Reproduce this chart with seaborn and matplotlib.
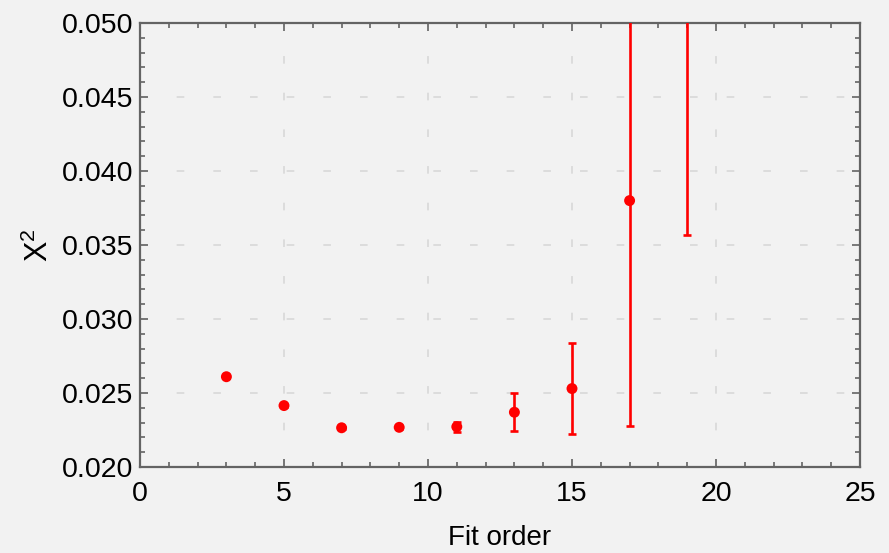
import numpy as np
import pandas as pd
import matplotlib
matplotlib.use("Agg")
import matplotlib.pyplot as plt
import seaborn as sns
from matplotlib.ticker import MultipleLocator

# data
fit_order = [3, 5, 7, 9, 11, 13, 15, 17, 19]
chi2 = [0.0261, 0.02415, 0.02265, 0.02268, 0.02272, 0.0237, 0.0253, 0.0380, 0.0598]
chi2_err = [0.00008, 0.00008, 0.00005, 0.00012, 0.00034, 0.00127, 0.0031, 0.0152, 0.0241]

x_ticks = [0, 5, 10, 15, 20, 25]
y_ticks = [0.020, 0.025, 0.030, 0.035, 0.040, 0.045, 0.050]
y_tick_labels = ["0.020", "0.025", "0.030", "0.035", "0.040", "0.045", "0.050"]

df = pd.DataFrame({"order": fit_order, "chi2": chi2, "err": chi2_err})

sns.set_style("ticks")
plt.rcParams["font.family"] = ["Liberation Sans", "DejaVu Sans"]
plt.rcParams["mathtext.fontset"] = "custom"
plt.rcParams["mathtext.rm"] = "Liberation Sans"
plt.rcParams["mathtext.it"] = "Liberation Sans"

bg = "#f2f2f2"
fig = plt.figure(figsize=(8.89, 5.53), dpi=100, facecolor=bg)
ax = fig.add_axes([140/889, 1-467/553, 720/889, 444/553])
ax.set_facecolor(bg)

ax.errorbar(df["order"], df["chi2"], yerr=df["err"], fmt="none",
            ecolor="#ff0000", elinewidth=1.9, capsize=3.0, capthick=1.9, zorder=3)
sns.scatterplot(data=df, x="order", y="chi2", color="#ff0000", s=62,
                edgecolor="none", ax=ax, zorder=4, legend=False)

ax.set_xlim(0, 25)
ax.set_ylim(0.020, 0.050)
ax.set_xticks(x_ticks)
ax.set_xticklabels([str(t) for t in x_ticks])
ax.set_yticks(y_ticks)
ax.set_yticklabels(y_tick_labels)
ax.xaxis.set_minor_locator(MultipleLocator(1))
ax.yaxis.set_minor_locator(MultipleLocator(0.001))

ax.grid(True, which="major", color="#d6d6d6", linewidth=1.1,
        linestyle=(0, (5, 19)))
ax.set_axisbelow(True)

for s in ax.spines.values():
    s.set_visible(True)
    s.set_color("#646464")
    s.set_linewidth(1.6)

ax.tick_params(which="both", direction="in", top=True, right=True,
               color="#646464", width=1.2, labelsize=20.5, labelcolor="black")
ax.tick_params(which="major", length=5.5)
ax.tick_params(axis="x", which="major", pad=10)
ax.tick_params(axis="y", which="major", pad=5)
ax.tick_params(which="minor", length=3.5)

ax.set_xlabel("Fit order", fontsize=20, labelpad=13, color="black")
ax.set_ylabel(r"$\mathregular{X^2}$", fontsize=22, labelpad=5, color="black")

fig.savefig("out.png", dpi=100, facecolor=bg)
